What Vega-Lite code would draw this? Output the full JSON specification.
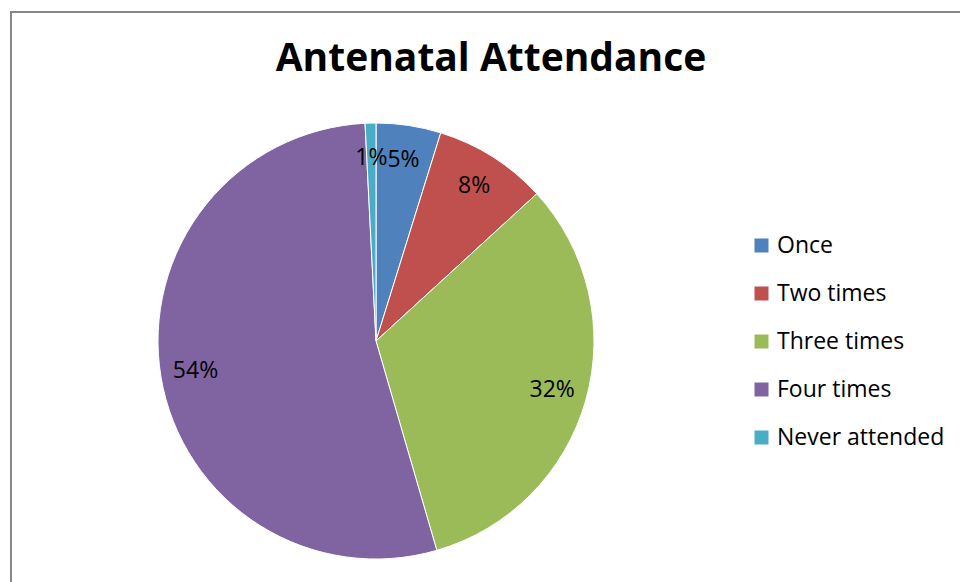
{
  "$schema": "https://vega.github.io/schema/vega-lite/v6.json",
  "width": 960,
  "height": 600,
  "autosize": {"type": "none"},
  "padding": {"left": 11, "top": 12, "right": 0, "bottom": 0},
  "background": "white",
  "view": {"stroke": "#878787", "strokeWidth": 2},
  "config": {"view": {"stroke": "#878787", "strokeWidth": 2}, "font": "Open Sans"},
  "title": {
    "text": "Antenatal Attendance",
    "fontSize": 39,
    "font": "Open Sans",
    "fontWeight": "bold",
    "color": "#000000",
    "anchor": "middle",
    "frame": "group",
    "baseline": "alphabetic",
    "offset": 0,
    "dy": 98
  },
  "data": {
    "values": [
      {"k": 1, "category": "Once", "share": 0.048},
      {"k": 2, "category": "Two times", "share": 0.084},
      {"k": 3, "category": "Three times", "share": 0.323},
      {"k": 4, "category": "Four times", "share": 0.537},
      {"k": 5, "category": "Never attended", "share": 0.008}
    ]
  },
  "encoding": {
    "theta": {"field": "share", "type": "quantitative", "stack": true},
    "order": {"field": "k", "type": "quantitative"},
    "color": {
      "field": "category",
      "type": "nominal",
      "sort": ["Once", "Two times", "Three times", "Four times", "Never attended"],
      "scale": {
        "domain": ["Once", "Two times", "Three times", "Four times", "Never attended"],
        "range": ["#4F81BD", "#C0504D", "#9BBB59", "#8064A2", "#4BACC6"]
      },
      "legend": {
        "orient": "none",
        "legendX": 739,
        "legendY": 222,
        "title": null,
        "padding": 0,
        "symbolType": "square",
        "symbolSize": 196,
        "symbolStrokeWidth": 0,
        "labelFontSize": 23,
        "labelFont": "Open Sans",
        "labelColor": "#000000",
        "labelOffset": 4,
        "labelLimit": 400,
        "rowPadding": 24
      }
    }
  },
  "layer": [
    {"mark": {"type": "arc", "outerRadius": 218, "x": 365, "y": 329, "stroke": "#ffffff", "strokeWidth": 1}},
    {
      "mark": {"type": "text", "radius": 183, "x": 365, "y": 329, "fontSize": 23, "font": "Open Sans"},
      "encoding": {
        "text": {"field": "share", "type": "quantitative", "format": ".0%"},
        "color": {"value": "#000000"}
      }
    }
  ]
}
